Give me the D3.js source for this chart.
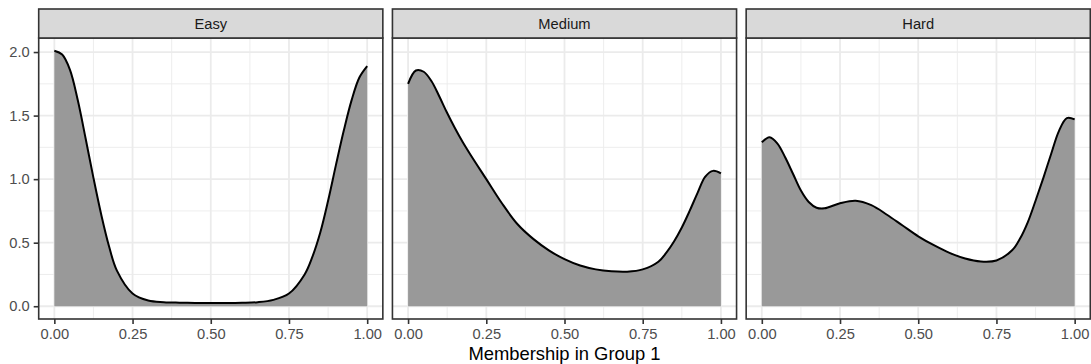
<!DOCTYPE html>
<html>
<head>
<meta charset="utf-8">
<script src="https://cdn.jsdelivr.net/npm/d3@7"></script>
<style>
  body { margin: 0; background: #fff; }
  svg { display: block; font-family: "Liberation Sans", Arial, Helvetica, sans-serif; }
</style>
</head>
<body>
<script>
// facet labels
const categories = ['Easy', 'Medium', 'Hard'];

const xGrid = [0, 0.025, 0.05, 0.075, 0.1, 0.125, 0.15, 0.175, 0.2,
  0.25, 0.3, 0.35, 0.4, 0.45, 0.5, 0.55, 0.6, 0.65, 0.7, 0.75,
  0.8, 0.825, 0.85, 0.875, 0.9, 0.925, 0.95, 0.975, 1];

const easyDensity = [2.01, 1.98, 1.86, 1.62, 1.32, 1.01, 0.72, 0.47, 0.28,
  0.10, 0.045, 0.032, 0.028, 0.026, 0.025, 0.025, 0.027, 0.032, 0.05, 0.10,
  0.25, 0.39, 0.58, 0.83, 1.11, 1.38, 1.62, 1.80, 1.89];

const mediumDensity = [1.75, 1.855, 1.845, 1.77, 1.65, 1.52, 1.40, 1.29, 1.19,
  1.00, 0.81, 0.645, 0.53, 0.44, 0.37, 0.32, 0.29, 0.275, 0.272, 0.29,
  0.35, 0.42, 0.51, 0.62, 0.75, 0.89, 1.02, 1.065, 1.045];

const hardDensity = [1.29, 1.33, 1.28, 1.17, 1.04, 0.91, 0.82, 0.775, 0.77,
  0.81, 0.83, 0.795, 0.72, 0.635, 0.55, 0.48, 0.42, 0.375, 0.352, 0.36,
  0.44, 0.53, 0.66, 0.83, 1.01, 1.20, 1.38, 1.48, 1.47];

const xTicks = [0, 0.25, 0.5, 0.75, 1];
const xMinor = [0.125, 0.375, 0.625, 0.875];
const yTicks = [0, 0.5, 1, 1.5, 2];
const yMinor = [0.25, 0.75, 1.25, 1.75];

const series = [easyDensity, mediumDensity, hardDensity];

const width = 1091, height = 364;
const left = 38.7, right = 1090.3, gap = 9.6;
const panelW = (right - left - 2 * gap) / 3;
const stripTop = 9, panelTop = 38, panelBottom = 319;

const svg = d3.select('body').append('svg')
  .attr('width', width)
  .attr('height', height);

// shared scales, ggplot style 5% expansion
const x = d3.scaleLinear().domain([-0.05, 1.05]).range([0, panelW]);
const yMax = d3.max(series, s => d3.max(s));
const y = d3.scaleLinear()
  .domain([-yMax * 0.05, yMax * 1.05])
  .range([panelBottom, panelTop]);

const area = d3.area()
  .x(d => x(d[0]))
  .y0(y(0))
  .y1(d => y(d[1]))
  .curve(d3.curveCatmullRom.alpha(0.5));

const line = d3.line()
  .x(d => x(d[0]))
  .y(d => y(d[1]))
  .curve(d3.curveCatmullRom.alpha(0.5));

categories.forEach((cat, i) => {
  const px = left + i * (panelW + gap);
  const g = svg.append('g').attr('transform', 'translate(' + px + ',0)');

  // grid
  g.selectAll('.vminor').data(xMinor).enter().append('line')
    .attr('x1', d => x(d)).attr('x2', d => x(d))
    .attr('y1', panelTop).attr('y2', panelBottom)
    .attr('stroke', '#ebebeb').attr('stroke-width', 0.9);
  g.selectAll('.hminor').data(yMinor).enter().append('line')
    .attr('x1', 0).attr('x2', panelW)
    .attr('y1', d => y(d)).attr('y2', d => y(d))
    .attr('stroke', '#ebebeb').attr('stroke-width', 0.9);
  g.selectAll('.vmajor').data(xTicks).enter().append('line')
    .attr('x1', d => x(d)).attr('x2', d => x(d))
    .attr('y1', panelTop).attr('y2', panelBottom)
    .attr('stroke', '#ebebeb').attr('stroke-width', 1.8);
  g.selectAll('.hmajor').data(yTicks).enter().append('line')
    .attr('x1', 0).attr('x2', panelW)
    .attr('y1', d => y(d)).attr('y2', d => y(d))
    .attr('stroke', '#ebebeb').attr('stroke-width', 1.8);

  const pts = xGrid.map((v, j) => [v, series[i][j]]);

  g.append('path')
    .datum(pts)
    .attr('d', area)
    .attr('fill', '#999999');

  g.append('path')
    .datum(pts)
    .attr('d', line)
    .attr('fill', 'none')
    .attr('stroke', '#000')
    .attr('stroke-width', 2);

  // panel border
  g.append('rect')
    .attr('x', 0).attr('y', panelTop)
    .attr('width', panelW).attr('height', panelBottom - panelTop)
    .attr('fill', 'none')
    .attr('stroke', '#333333')
    .attr('stroke-width', 1.6);

  // strip
  g.append('rect')
    .attr('x', 0).attr('y', stripTop)
    .attr('width', panelW).attr('height', panelTop - stripTop)
    .attr('fill', '#d9d9d9')
    .attr('stroke', '#333333')
    .attr('stroke-width', 1.6);
  g.append('text')
    .attr('x', panelW / 2)
    .attr('y', (stripTop + panelTop) / 2)
    .attr('dy', '0.35em')
    .attr('text-anchor', 'middle')
    .attr('font-size', '14.7px')
    .attr('fill', '#1a1a1a')
    .text(cat);

  // x axis
  const xAxis = g.append('g')
    .attr('transform', 'translate(0,' + panelBottom + ')')
    .call(d3.axisBottom(x).tickValues(xTicks).tickFormat(d3.format('.2f'))
      .tickSize(5).tickPadding(5));
  xAxis.select('.domain').remove();
  xAxis.selectAll('line').attr('stroke', '#333333').attr('stroke-width', 1.6);
  xAxis.selectAll('text').attr('fill', '#4d4d4d').attr('font-size', '14.7px')
    .attr('font-family', null);

  if (i === 0) {
    const yAxis = g.append('g')
      .call(d3.axisLeft(y).tickValues(yTicks).tickFormat(d3.format('.1f'))
        .tickSize(5).tickPadding(4));
    yAxis.select('.domain').remove();
    yAxis.selectAll('line').attr('stroke', '#333333').attr('stroke-width', 1.6);
    yAxis.selectAll('text').attr('fill', '#4d4d4d').attr('font-size', '14.7px')
      .attr('font-family', null);
  }
});

// axis title
svg.append('text')
  .attr('x', (left + right) / 2)
  .attr('y', 360)
  .attr('text-anchor', 'middle')
  .attr('font-size', '18.4px')
  .attr('fill', '#000')
  .text('Membership in Group 1');
</script>
</body>
</html>
